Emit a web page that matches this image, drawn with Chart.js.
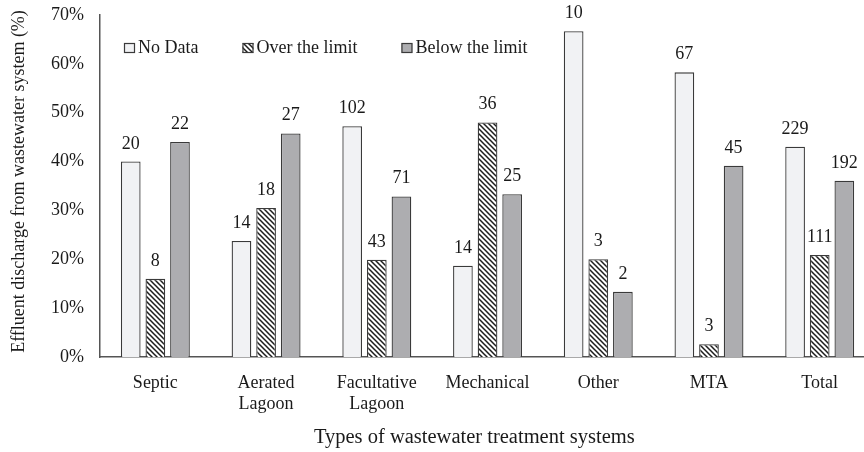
<!DOCTYPE html>
<html>
<head>
<meta charset="utf-8">
<script src="https://cdn.jsdelivr.net/npm/chart.js@4.4.1/dist/chart.umd.min.js"></script>
<style>
  html, body { margin: 0; padding: 0; background: #ffffff; }
  #wrap { width: 864px; height: 452px; position: relative; }
</style>
</head>
<body>
<div id="wrap"><canvas id="chart" width="864" height="452"></canvas></div>
<script>
// Treatment system categories (multi-line labels)
const categories = [
  'Septic',
  ['Aerated', 'Lagoon'],
  ['Facultative', 'Lagoon'],
  'Mechanical',
  'Other',
  'MTA',
  'Total'
];

// Number of systems in each discharge class
const noDataCounts = [20, 14, 102, 14, 10, 67, 229];
const overLimitCounts = [8, 18, 43, 36, 3, 3, 111];
const belowLimitCounts = [22, 27, 71, 25, 2, 45, 192];

const seriesNames = ['No Data', 'Over the limit', 'Below the limit'];
const yTicks = [0, 10, 20, 30, 40, 50, 60, 70];

// Share (%) of each class within its category, placed at the category index
const totals = categories.map((_, i) => noDataCounts[i] + overLimitCounts[i] + belowLimitCounts[i]);
const toPoints = arr => arr.map((v, i) => ({ x: i, y: v / totals[i] * 100 }));

const FONT = '"Liberation Serif", "DejaVu Serif", serif';
const EDGE = '#3a3a3a';
const INK = '#1a1a1a';
const NBSP = '\u00A0';

// Diagonal hatch fill for the "over the limit" bars
function makeHatch() {
  const size = 5;
  const c = document.createElement('canvas');
  c.width = size; c.height = size;
  const g = c.getContext('2d');
  g.fillStyle = '#ffffff';
  g.fillRect(0, 0, size, size);
  g.strokeStyle = '#1e1e1e';
  g.lineWidth = 1.5;
  g.beginPath();
  g.moveTo(-1, -1); g.lineTo(size + 1, size + 1);
  g.moveTo(-1 - size, -1); g.lineTo(1, size + 1);
  g.moveTo(size - 1, -1); g.lineTo(2 * size + 1, size + 1);
  g.stroke();
  return g.createPattern(c, 'repeat');
}
const hatch = makeHatch();

const counts = [noDataCounts, overLimitCounts, belowLimitCounts];

// Count labels above every bar
const countLabels = {
  id: 'countLabels',
  afterDatasetsDraw(chart) {
    const ctx = chart.ctx;
    ctx.save();
    ctx.font = '18px ' + FONT;
    ctx.fillStyle = INK;
    ctx.textAlign = 'center';
    ctx.textBaseline = 'alphabetic';
    chart.data.datasets.forEach((ds, di) => {
      chart.getDatasetMeta(di).data.forEach((bar, i) => {
        ctx.fillText(String(counts[di][i]), bar.x, bar.y - 13);
      });
    });
    ctx.restore();
  }
};

// Compact legend placed inside the plot, top-left
const insideLegend = {
  id: 'insideLegend',
  afterDraw(chart) {
    const ctx = chart.ctx;
    const area = chart.chartArea;
    ctx.save();
    ctx.font = '18px ' + FONT;
    ctx.textBaseline = 'alphabetic';
    let x = area.left + 24;
    const top = area.top + 28;
    chart.data.datasets.forEach(ds => {
      ctx.fillStyle = ds.backgroundColor;
      ctx.fillRect(x, top, 11, 10);
      ctx.strokeStyle = EDGE;
      ctx.lineWidth = 1.2;
      ctx.strokeRect(x + 0.5, top + 0.5, 10, 9);
      ctx.fillStyle = INK;
      ctx.fillText(ds.label, x + 14, top + 10);
      x += 14 + ctx.measureText(ds.label).width + 44;
    });
    ctx.restore();
  }
};

const common = { borderColor: EDGE, borderWidth: 1.3, categoryPercentage: 0.667, barPercentage: 0.8 };

new Chart(document.getElementById('chart'), {
  type: 'bar',
  data: {
    datasets: [
      Object.assign({ label: seriesNames[0], data: toPoints(noDataCounts), backgroundColor: '#f1f2f4' }, common),
      Object.assign({ label: seriesNames[1], data: toPoints(overLimitCounts), backgroundColor: hatch }, common),
      Object.assign({ label: seriesNames[2], data: toPoints(belowLimitCounts), backgroundColor: '#adadb0' }, common)
    ]
  },
  options: {
    responsive: false,
    animation: false,
    devicePixelRatio: 1,
    layout: { padding: { left: 0, top: 15, right: 0, bottom: 0 } },
    plugins: { legend: { display: false }, tooltip: { enabled: false } },
    scales: {
      x: {
        type: 'linear',
        offset: false,
        min: -0.5,
        max: 6.4,
        afterBuildTicks(s) { s.ticks = categories.map((_, i) => ({ value: i })); },
        grid: { display: false, drawTicks: false },
        border: { display: true, color: '#555555', width: 1.5 },
        ticks: {
          color: INK, font: { family: FONT, size: 18 }, padding: 15,
          maxRotation: 0, autoSkip: false,
          callback: v => categories[v]
        },
        title: {
          display: true, text: 'Types of wastewater treatment systems' + NBSP.repeat(3),
          color: INK, font: { family: FONT, size: 20.5 }, padding: { top: 10, bottom: 2 }
        },
        afterFit(s) { s.height = 95; }
      },
      y: {
        min: 0, max: 70,
        afterBuildTicks(s) { s.ticks = yTicks.map(v => ({ value: v })); },
        grid: { display: false, drawTicks: false },
        border: { display: true, color: '#555555', width: 1.5 },
        ticks: {
          color: INK, font: { family: FONT, size: 18 }, padding: 16,
          callback: v => v + '%'
        },
        title: {
          display: true, text: NBSP.repeat(2) + 'Effluent discharge from wastewater system (%)',
          color: INK, font: { family: FONT, size: 18 }, padding: { top: 8, bottom: 0 }
        },
        afterFit(s) { s.width = 100; s.paddingTop = 0; s.paddingBottom = 0; }
      }
    }
  },
  plugins: [countLabels, insideLegend]
});
</script>
</body>
</html>
